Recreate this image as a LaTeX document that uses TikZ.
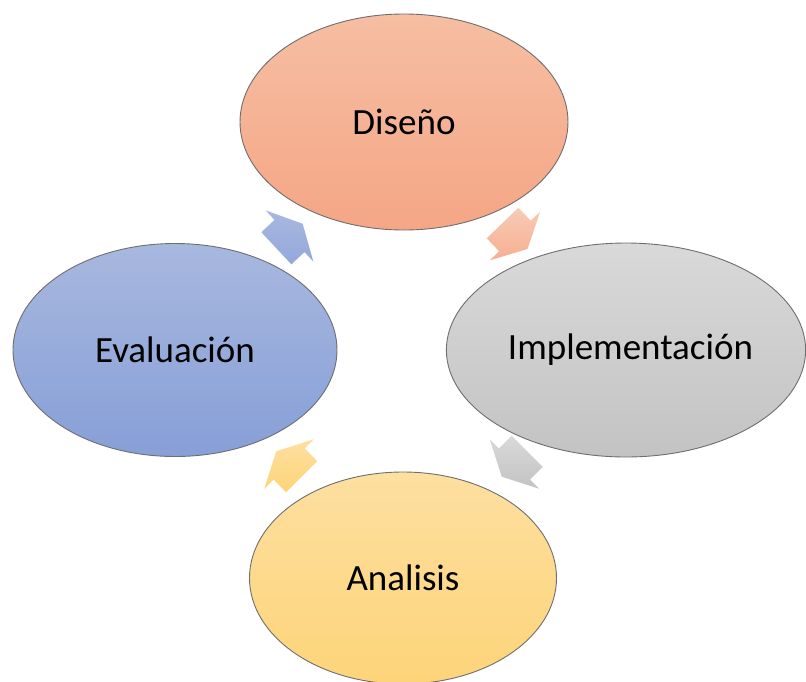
\documentclass[tikz,border=0pt]{standalone}
\usepackage{fontspec}
\setmainfont{Carlito}
\usetikzlibrary{shapes.geometric,calc}
\definecolor{disT}{HTML}{F6BEA3}
\definecolor{disB}{HTML}{F5A685}
\definecolor{impT}{HTML}{D9D9D9}
\definecolor{impB}{HTML}{C3C3C3}
\definecolor{evaT}{HTML}{A8B8DF}
\definecolor{evaB}{HTML}{879FD7}
\definecolor{anaT}{HTML}{FDDFA0}
\definecolor{anaB}{HTML}{FDD479}
\definecolor{edge}{HTML}{6E6E6E}
\begin{document}
\begin{tikzpicture}[x=1pt,y=-1pt,
  cyc/.style={ellipse, draw=edge, line width=0.9pt, inner sep=0pt,
    font=\fontsize{37}{44}\selectfont, text=black},
  pics/cyclearrow/.style 2 args={code={
    \shade[top color=#1, bottom color=#2]
      (-18,-22) -- (0,-22) -- (0,-35) -- (18,0) -- (0,35) -- (0,22) -- (-18,22) -- cycle;}}
]
\useasboundingbox (0,0) rectangle (806,681);
\node[cyc, minimum width=328pt, minimum height=216pt, top color=disT, bottom color=disB] (dis) at (404,122) {Diseño};
\node[cyc, minimum width=359pt, minimum height=214pt, top color=impT, bottom color=impB] (imp) at (626,350) {\hspace*{9pt}Implementación};
\node[cyc, minimum width=324pt, minimum height=213pt, top color=evaT, bottom color=evaB] (eva) at (175,350) {Evaluación};
\node[cyc, minimum width=307pt, minimum height=212pt, top color=anaT, bottom color=anaB] (ana) at (403,578) {Analisis};
\pic[rotate=43] (a1) at ($(eva.center)!0.5!(dis.center)$) {cyclearrow={evaT}{evaB!90!white}};
\pic[rotate=-46] (a2) at ($(dis.center)!0.5!(imp.center)$) {cyclearrow={disT!80!white}{disB!90!white}};
\pic[rotate=-135] (a3) at ($(imp.center)!0.5!(ana.center)$) {cyclearrow={impT}{impB}};
\pic[rotate=135] (a4) at ($(ana.center)!0.5!(eva.center)$) {cyclearrow={anaT}{anaB}};
\end{tikzpicture}
\end{document}
